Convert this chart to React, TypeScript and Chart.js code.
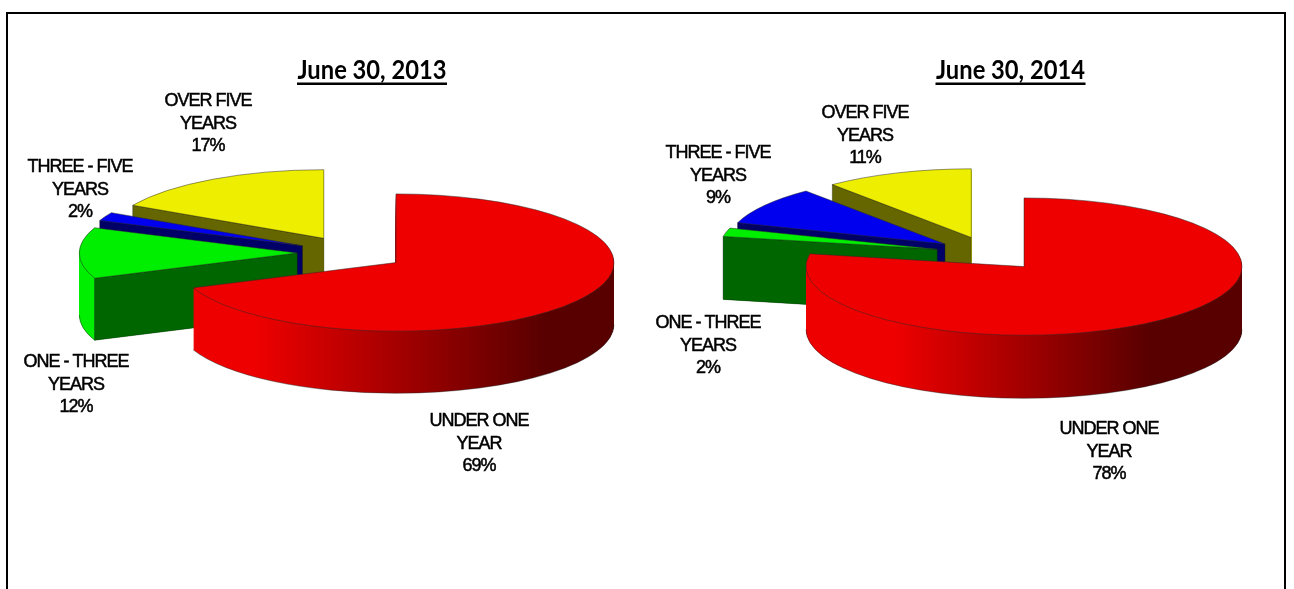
import React, { useEffect, useRef } from "react";
import { Chart, registerables } from "chart.js";

Chart.register(...registerables);

// Slices run clockwise from twelve o'clock.
const categories = ["UNDER ONE", "ONE - THREE", "THREE - FIVE", "OVER FIVE"];
const categoryTail = ["YEAR", "YEARS", "YEARS", "YEARS"];
const share2013 = [69, 12, 2, 17];
const share2014 = [78, 2, 9, 11];
const titles = ["June 30, 2013", "June 30, 2014"];

const topColors = ["#EE0000", "#00EE00", "#0000EE", "#EEEE00"];
const rimColors = ["#EE0000", "#00EE00", "#0000EE", "#EEEE00"];
const cutColors = ["#AA0000", "#006600", "#000066", "#666600"];

const W = 1294;
const H = 589;
const TILT = 0.315;
const RADIUS = 218;
const EXPLODE = 54;

type Panel = {
  title: string;
  titleX: number;
  values: number[];
  centerX: number;
  centerY: number;
  depth: number;
  shade: [number, number];
  anchors: [number, number][];
};

const panels: Panel[] = [
  {
    title: titles[0],
    titleX: 372,
    values: share2013,
    centerX: 351.3,
    centerY: 253,
    depth: 62,
    shade: [255, 545],
    anchors: [[479, 421], [76, 362], [80, 167], [208, 101]],
  },
  {
    title: titles[1],
    titleX: 1010.5,
    values: share2014,
    centerX: 989.6,
    centerY: 253.5,
    depth: 63,
    shade: [895, 1150],
    anchors: [[1109, 429], [708, 323], [718, 153], [865, 113]],
  },
];

const wedge = (ctx: CanvasRenderingContext2D, x: number, y: number, r: number, a: number, b: number) => {
  ctx.beginPath();
  ctx.moveTo(x, y);
  ctx.arc(x, y, r, a, b);
  ctx.closePath();
};

const pieSolid = (panel: Panel) => ({
  id: "pieSolid",
  // Takes over the dataset pass: every arc is moved out along its mid angle,
  // given a wall, and then painted by its own Chart.js element.
  beforeDatasetsDraw(chart: any) {
    const { ctx } = chart;
    const arcs = chart.getDatasetMeta(0).data;
    const mid = arcs[0];
    ctx.save();
    ctx.translate(panel.centerX, panel.centerY);
    ctx.scale(1, TILT);
    ctx.translate(-mid.x, -mid.y);

    // Walls go back to front so that the nearer slices hide the farther ones.
    for (let i = arcs.length - 1; i >= 0; i--) {
      const el = arcs[i];
      const a = el.startAngle;
      const b = el.endAngle;
      const half = (a + b) / 2;
      const r = el.outerRadius;
      const ax = el.x + Math.cos(half) * EXPLODE;
      const ay = el.y + Math.sin(half) * EXPLODE;
      const drop = panel.depth / TILT;

      let rim: any = rimColors[i];
      if (i === 0) {
        const g = ctx.createLinearGradient(
          panel.shade[0] - panel.centerX + el.x, 0,
          panel.shade[1] - panel.centerX + el.x, 0
        );
        g.addColorStop(0, "#EE0000");
        g.addColorStop(1, "#580000");
        rim = g;
      }
      ctx.fillStyle = rim;
      for (let d = panel.depth; d >= 1; d -= 0.5) {
        wedge(ctx, ax, ay + d / TILT, r, a, b);
        ctx.fill();
      }

      // Lower edge of the wall, only where it faces the viewer.
      const from = Math.max(a, 0);
      const to = Math.min(b, Math.PI);
      if (to > from) {
        ctx.beginPath();
        ctx.arc(ax, ay + drop, r, from, to);
        ctx.strokeStyle = "rgba(40,40,40,0.7)";
        ctx.lineWidth = 1;
        ctx.stroke();
      }

      // Flat cut faces that look toward the viewer.
      const faces = [
        { angle: a, visible: Math.sin(a - Math.PI / 2) > 0.01 },
        { angle: b, visible: Math.sin(b + Math.PI / 2) > 0.01 },
      ];
      for (const face of faces) {
        if (!face.visible) continue;
        const rx = ax + Math.cos(face.angle) * r;
        const ry = ay + Math.sin(face.angle) * r;
        ctx.beginPath();
        ctx.moveTo(ax, ay);
        ctx.lineTo(rx, ry);
        ctx.lineTo(rx, ry + drop);
        ctx.lineTo(ax, ay + drop);
        ctx.closePath();
        ctx.fillStyle = cutColors[i];
        ctx.fill();
        ctx.strokeStyle = "rgba(20,20,20,0.6)";
        ctx.stroke();
      }
    }

    // Top faces.
    arcs.forEach((el: any) => {
      const half = (el.startAngle + el.endAngle) / 2;
      ctx.save();
      ctx.translate(Math.cos(half) * EXPLODE, Math.sin(half) * EXPLODE);
      el.draw(ctx);
      ctx.restore();
    });
    ctx.restore();
    return false;
  },
  afterDraw(chart: any) {
    const { ctx } = chart;
    ctx.save();
    ctx.textAlign = "center";
    ctx.textBaseline = "middle";
    ctx.fillStyle = "#000";
    ctx.font = '18px "Liberation Sans"';
    ctx.letterSpacing = "-1px";
    ctx.lineWidth = 0.5;
    ctx.strokeStyle = "#000";
    panel.values.forEach((value, i) => {
      const [x, y] = panel.anchors[i];
      [categories[i], categoryTail[i], `${value}%`].forEach((line, n) => {
        ctx.fillText(line, x, y + n * 22.7);
        ctx.strokeText(line, x, y + n * 22.7);
      });
    });
    ctx.letterSpacing = "0px";
    ctx.font = "bold 27px Lato";
    ctx.textBaseline = "alphabetic";
    ctx.fillText(panel.title, panel.titleX, 79, 149);
    ctx.fillRect(panel.titleX - 75, 82.5, 150, 2.5);
    ctx.restore();
  },
});

function PieCanvas({ panel }: { panel: Panel }) {
  const ref = useRef<HTMLCanvasElement | null>(null);
  useEffect(() => {
    const chart = new Chart(ref.current as HTMLCanvasElement, {
      type: "pie",
      data: {
        labels: categories,
        datasets: [
          {
            data: panel.values,
            backgroundColor: topColors,
            borderColor: "rgba(40,40,40,0.75)",
            borderWidth: 1,
          },
        ],
      },
      options: {
        animation: false,
        responsive: false,
        radius: RADIUS,
        plugins: { legend: { display: false }, tooltip: { enabled: false }, title: { display: false } },
      } as any,
      plugins: [pieSolid(panel)],
    });
    return () => chart.destroy();
  }, [panel]);
  return (
    <canvas
      ref={ref}
      width={W}
      height={H}
      style={{ position: "absolute", left: 0, top: 0, width: W, height: H }}
    />
  );
}

export default function App() {
  return (
    <div style={{ position: "fixed", left: 0, top: 0, width: W, height: H, overflow: "hidden", background: "#fff" }}>
      <div
        style={{
          position: "absolute",
          left: 6,
          top: 12,
          width: 1276,
          height: 620,
          border: "2px solid #000",
        }}
      />
      {panels.map((p) => (
        <PieCanvas key={p.title} panel={p} />
      ))}
    </div>
  );
}
